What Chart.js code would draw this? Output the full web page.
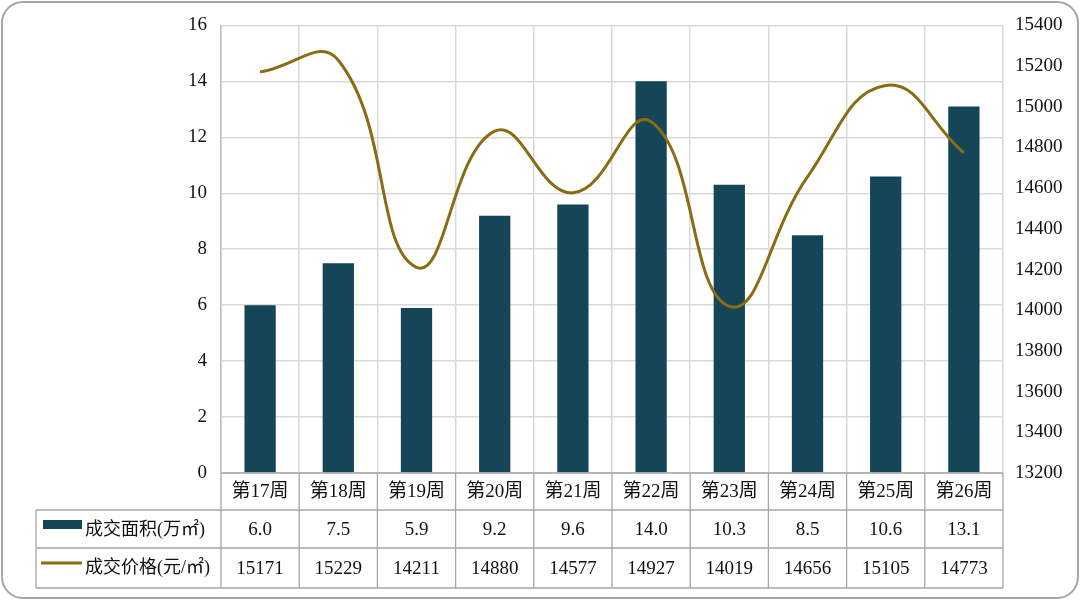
<!DOCTYPE html>
<html><head><meta charset="utf-8">
<script src="https://cdn.jsdelivr.net/npm/chart.js@4.4.1/dist/chart.umd.min.js"></script>
<style>
html,body{margin:0;padding:0;background:#fff;}
#wrap{position:relative;width:1080px;height:600px;}
#frame{position:absolute;left:1px;top:1px;width:1074px;height:594px;border:2px solid #a6a6a6;border-radius:22px;pointer-events:none;}
canvas{position:absolute;left:0;top:0;}
</style></head>
<body>
<div id="wrap"><canvas id="c" width="1080" height="600"></canvas><div id="frame"></div></div>
<script>
const categories = ['第17周','第18周','第19周','第20周','第21周','第22周','第23周','第24周','第25周','第26周'];
const areaValues = [6.0, 7.5, 5.9, 9.2, 9.6, 14.0, 10.3, 8.5, 10.6, 13.1];
const priceValues = [15171, 15229, 14211, 14880, 14577, 14927, 14019, 14656, 15105, 14773];
const areaLabel = '成交面积(万㎡)';
const priceLabel = '成交价格(元/㎡)';
const areaText = ['6.0','7.5','5.9','9.2','9.6','14.0','10.3','8.5','10.6','13.1'];

const BAR = '#154657';
const LINE = '#8a6c12';
const FONT = '"Liberation Serif","Noto Sans CJK SC",sans-serif';
const TABLE_LINE = '#a6a6a6';
const FS = 19;

const tablePlugin = {
  id: 'dataTable',
  afterDraw(chart) {
    const ctx = chart.ctx;
    const x = chart.scales.x;
    const area = chart.chartArea;
    const left = 36, r1 = area.bottom, r2 = 510, r3 = 548, r4 = 588;
    const n = categories.length;
    const step = (area.right - area.left) / n;
    ctx.save();
    ctx.strokeStyle = TABLE_LINE;
    ctx.lineWidth = 1.3;
    ctx.beginPath();
    ctx.moveTo(area.left, r1); ctx.lineTo(area.right, r1);
    [r2, r3, r4].forEach(y => { ctx.moveTo(left, y); ctx.lineTo(area.right, y); });
    ctx.moveTo(left, r2); ctx.lineTo(left, r4);
    for (let i = 0; i <= n; i++) {
      const px = area.left + step * i;
      ctx.moveTo(px, r1); ctx.lineTo(px, r4);
    }
    ctx.stroke();

    ctx.fillStyle = BAR;
    ctx.fillRect(43, 520, 39, 9);
    ctx.strokeStyle = LINE;
    ctx.lineWidth = 3;
    ctx.beginPath(); ctx.moveTo(41, 563); ctx.lineTo(82, 563); ctx.stroke();

    ctx.fillStyle = '#111';
    ctx.textBaseline = 'middle';
    ctx.textAlign = 'left';
    ctx.font = '18px ' + FONT;
    ctx.fillText(areaLabel, 85, 530);
    ctx.fillText(priceLabel, 85, 568);
    ctx.font = FS + 'px ' + FONT;
    ctx.textAlign = 'center';
    for (let i = 0; i < n; i++) {
      const cx = x.getPixelForValue(i);
      ctx.fillText(areaText[i], cx, 530);
      ctx.fillText(String(priceValues[i]), cx, 569);
    }
    ctx.restore();
  }
};

new Chart(document.getElementById('c'), {
  data: {
    labels: categories,
    datasets: [
      {
        type: 'line', label: priceLabel, data: priceValues, yAxisID: 'y2',
        borderColor: LINE, borderWidth: 3, tension: 0.45, pointRadius: 0, fill: false, order: 0
      },
      {
        type: 'bar', label: areaLabel, data: areaValues, yAxisID: 'y',
        backgroundColor: BAR, categoryPercentage: 0.8, barPercentage: 0.5, order: 1
      }
    ]
  },
  options: {
    responsive: false,
    animation: false,
    devicePixelRatio: 1,
    layout: { padding: { top: 24, bottom: 90, left: 0, right: 0 } },
    plugins: { legend: { display: false }, tooltip: { enabled: false } },
    scales: {
      x: {
        offset: true,
        grid: { color: '#d9d9d9', lineWidth: 1.5, drawTicks: false, offset: true },
        border: { display: false },
        ticks: { color: '#111', font: { size: FS, family: FONT }, padding: 8, maxRotation: 0 },
        afterFit(s) { s.height = 37; }
      },
      y: {
        position: 'left', min: 0, max: 16,
        ticks: { stepSize: 2, color: '#111', font: { size: FS, family: FONT }, padding: 14 },
        grid: { color: '#d9d9d9', lineWidth: 1.5, drawTicks: false },
        border: { display: true, color: '#bfbfbf', width: 1.5 },
        afterFit(s) { s.width = 221; }
      },
      y2: {
        position: 'right', min: 13200, max: 15400,
        ticks: { stepSize: 200, color: '#111', font: { size: FS, family: FONT }, padding: 12,
                 callback: v => String(v) },
        grid: { display: false, drawTicks: false },
        border: { display: false },
        afterFit(s) { s.width = 77; }
      }
    }
  },
  plugins: [tablePlugin]
});
</script>
</body></html>
